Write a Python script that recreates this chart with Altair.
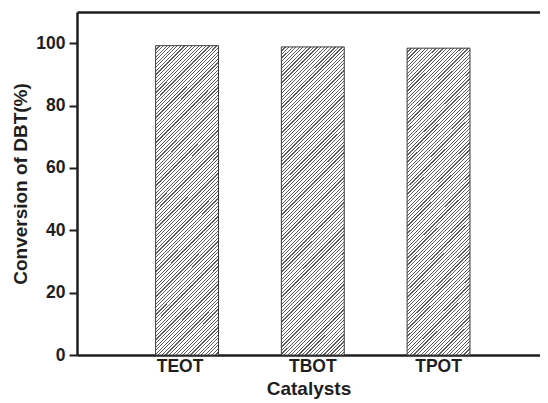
import altair as alt
import pandas as pd

catalysts = ["TEOT", "TBOT", "TPOT"]
conversion = [99.2, 98.8, 98.4]
y_ticks = [0, 20, 40, 60, 80, 100]

df = pd.DataFrame({"Catalyst": catalysts, "Conversion": conversion})

# Hatch fill made from a striped linear gradient (objectBoundingBox units)
W, H = 62.9, 308.5
r = H / W
a = (1 + r) / (1 + r * r)
b = a * r
periods = 104
frac = 0.33
dark, light = "#5e5e5e", "#ffffff"
stops = []
for k in range(periods):
    s0 = k / periods
    s1 = (k + frac) / periods
    s2 = (k + 1) / periods
    stops += [
        alt.GradientStop(color=dark, offset=s0),
        alt.GradientStop(color=dark, offset=s1),
        alt.GradientStop(color=light, offset=s1),
        alt.GradientStop(color=light, offset=min(s2, 1.0)),
    ]
hatch = alt.LinearGradient(gradient="linear", stops=stops, x1=0, y1=0, x2=a, y2=b)

FONT = "Liberation Sans"
INK = "#1e1e1e"

x_scale = alt.Scale(paddingInner=0.5, paddingOuter=0.591, align=0.529)
y_scale = alt.Scale(domain=[0, 110], nice=False)

bars = alt.Chart(df).mark_bar(fill=hatch, stroke="#3a3a3a", strokeWidth=1).encode(
    x=alt.X(
        "Catalyst:N",
        sort=catalysts,
        scale=x_scale,
        title="Catalysts",
        axis=alt.Axis(
            labelAngle=0,
            ticks=False,
            domainWidth=2.5,
            domainColor=INK,
            labelFont=FONT,
            labelFontSize=17.5,
            labelFontWeight="bold",
            labelColor=INK,
            labelPadding=2,
            labelOffset=alt.ConditionalAxisNumber(
                condition=alt.ConditionalPredicateValueDefnumbernullExprRef(
                    test="datum.value == 'TEOT'", value=-7
                ),
                value=0,
            ),
            titleFont=FONT,
            titleFontSize=19,
            titleFontWeight="bold",
            titleColor=INK,
            titlePadding=5,
        ),
    ),
    y=alt.Y(
        "Conversion:Q",
        scale=y_scale,
        title="Conversion of DBT(%)",
        axis=alt.Axis(
            values=y_ticks,
            grid=False,
            domainWidth=2.5,
            domainColor=INK,
            tickWidth=2,
            tickSize=8,
            tickColor=INK,
            labelFont=FONT,
            labelFontSize=17.5,
            labelFontWeight="bold",
            labelColor=INK,
            labelPadding=4,
            titleFont=FONT,
            titleFontSize=19,
            titleFontWeight="bold",
            titleColor=INK,
            titlePadding=5,
        ),
    ),
)

frame = alt.Chart(df).mark_bar(opacity=0).encode(
    x=alt.X(
        "Catalyst:N",
        sort=catalysts,
        scale=x_scale,
        axis=alt.Axis(
            orient="top",
            labels=False,
            ticks=False,
            title=None,
            domainWidth=2.5,
            domainColor=INK,
        ),
    ),
)

chart = (
    alt.layer(bars, frame)
    .resolve_axis(x="independent")
    .properties(
        width=463,
        height=343,
        autosize=alt.AutoSizeParams(type="none"),
        padding={"left": 69, "top": 4, "right": 0, "bottom": 46},
        background="white",
    )
    .configure_view(stroke=None)
)

chart.save("out.html", embed_options={"renderer": "svg", "actions": False})
